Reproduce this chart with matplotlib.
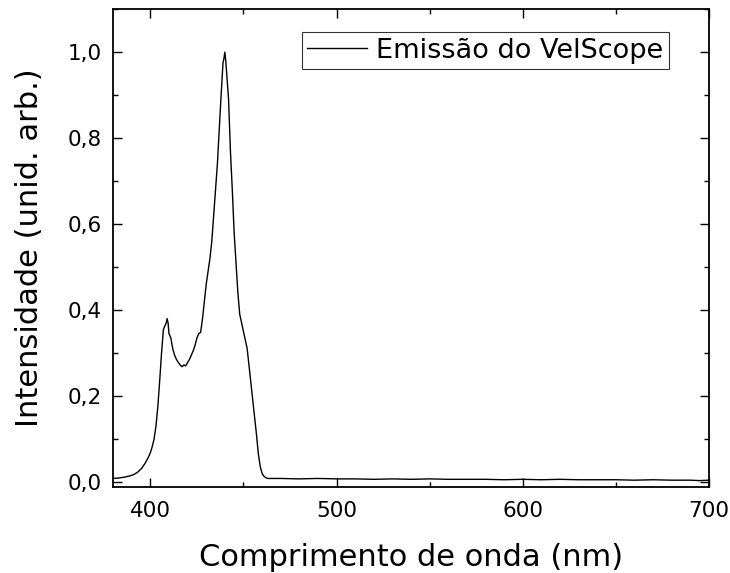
import matplotlib
matplotlib.use("Agg")
import matplotlib.pyplot as plt
from matplotlib.ticker import MultipleLocator, FuncFormatter

plt.rcParams['font.family'] = ['DejaVu Sans']

wavelength = [380, 383, 386, 389, 391, 393, 395, 397, 398, 399, 400, 401, 402, 403, 404,
              405, 406, 407, 408, 408.5, 409, 409.5, 410, 411, 412, 413, 414, 415, 416,
              417, 418, 419, 420, 421, 422, 423, 424, 425, 426, 427, 428, 429, 430, 431,
              432, 433, 434, 435, 436, 437, 438, 439, 439.5, 440, 440.5, 441, 442, 443,
              444, 445, 446, 447, 448, 449, 450, 451, 452, 453, 454, 455, 456, 457, 458,
              459, 460, 461, 462, 463, 470, 480, 490, 500, 510, 520, 530, 540, 550, 560,
              570, 580, 590, 600, 610, 620, 630, 640, 650, 660, 670, 680, 690, 695, 700]
intensity = [0.008, 0.009, 0.011, 0.014, 0.017, 0.022, 0.030, 0.042, 0.050, 0.058, 0.068,
             0.082, 0.100, 0.130, 0.175, 0.235, 0.300, 0.355, 0.365, 0.370, 0.380, 0.370,
             0.345, 0.335, 0.310, 0.295, 0.285, 0.278, 0.272, 0.268, 0.272, 0.270, 0.278,
             0.285, 0.295, 0.305, 0.318, 0.335, 0.345, 0.348, 0.380, 0.420, 0.460, 0.490,
             0.520, 0.560, 0.620, 0.680, 0.740, 0.820, 0.900, 0.975, 0.985, 1.000, 0.980,
             0.950, 0.890, 0.770, 0.680, 0.580, 0.510, 0.440, 0.390, 0.370, 0.350, 0.330,
             0.310, 0.270, 0.230, 0.190, 0.150, 0.110, 0.065, 0.036, 0.020, 0.013, 0.010,
             0.008, 0.008, 0.007, 0.008, 0.007, 0.007, 0.006, 0.007, 0.006, 0.007, 0.006,
             0.006, 0.006, 0.005, 0.006, 0.005, 0.006, 0.005, 0.005, 0.005, 0.004, 0.005,
             0.004, 0.004, 0.003, 0.004]

series_label = "Emissão do VelScope"
xlabel = "Comprimento de onda (nm)"
ylabel = "Intensidade (unid. arb.)"

fig = plt.figure(figsize=(7.3, 5.73), dpi=100)
ax = fig.add_axes([0.155, 0.150, 0.816, 0.834])
ax.plot(wavelength, intensity, color='black', lw=1.0, label=series_label)

ax.set_xlim(380, 700)
ax.set_ylim(-0.012, 1.1)
ax.xaxis.set_major_locator(MultipleLocator(100))
ax.xaxis.set_minor_locator(MultipleLocator(50))
ax.yaxis.set_major_locator(MultipleLocator(0.2))
ax.yaxis.set_minor_locator(MultipleLocator(0.1))
ax.yaxis.set_major_formatter(FuncFormatter(lambda v, p: f"{v:.1f}".replace('.', ',')))

ax.tick_params(which='both', direction='in', top=True, right=True, width=1.0,
               labelsize=15.5)
ax.tick_params(which='major', length=6.5)
ax.tick_params(which='minor', length=3.3)
ax.tick_params(axis='x', which='major', pad=10.4)
ax.tick_params(axis='y', which='major', pad=8)
for s in ax.spines.values():
    s.set_linewidth(1.3)

ax.set_xlabel(xlabel, fontsize=22)
ax.set_ylabel(ylabel, fontsize=22)
ax.xaxis.set_label_coords(0.5, -0.117)
ax.yaxis.set_label_coords(-0.1158, 0.5)

leg = ax.legend(loc='upper right', bbox_to_anchor=(0.933, 0.952), borderaxespad=0,
                fontsize=19.5, frameon=True, fancybox=False, handlelength=2.2,
                handletextpad=0.35, borderpad=0.2)
leg.get_frame().set_edgecolor('black')
leg.get_frame().set_linewidth(0.8)

fig.savefig('out.png', dpi=100)
